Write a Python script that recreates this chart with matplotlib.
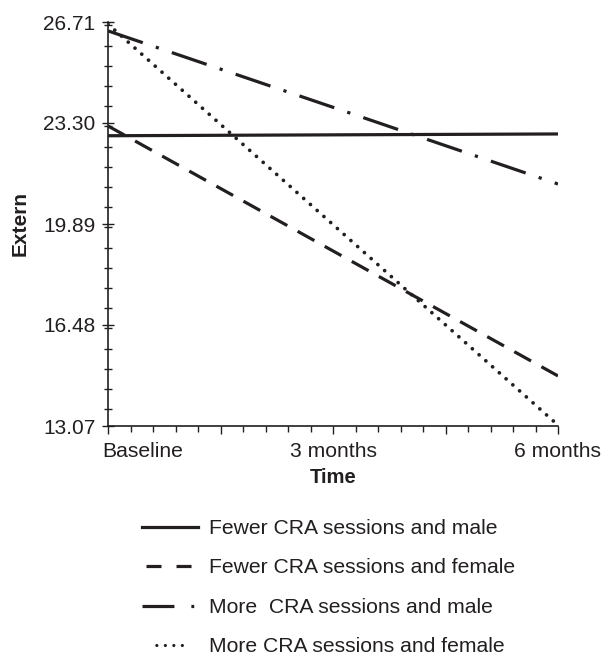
import matplotlib
matplotlib.use('Agg')
import matplotlib.pyplot as plt
from matplotlib.lines import Line2D
from matplotlib.ticker import MultipleLocator, FixedLocator
from matplotlib.transforms import ScaledTranslation

plt.rcParams['font.family'] = ['Liberation Sans', 'DejaVu Sans']

time_pos = [0, 1, 2]
time_labels = ['Baseline', '3 months', '6 months']
y_ticks = [13.07, 16.48, 19.89, 23.30, 26.71]

fewer_male = [22.87, 22.90, 22.93]
fewer_female = [23.20, 18.98, 14.76]
more_male = [26.41, 23.83, 21.24]
more_female = [26.64, 19.87, 13.10]

labels = ['Fewer CRA sessions and male',
          'Fewer CRA sessions and female',
          'More  CRA sessions and male',
          'More CRA sessions and female']

ink = '#231f20'
lw = 2.3

# line styles (dash lengths are in units of line width)
st_solid = '-'
st_dash = (0, (6, 3.7))
st_dashdot = (0, (11.5, 4.3, 1, 4.3))
st_dot = (0, (0.01, 2.4))

fig = plt.figure(figsize=(6.03, 6.58), dpi=100)
ax = fig.add_axes([108 / 603, 1 - 426 / 658, 450 / 603, 404 / 658])

ax.plot(time_pos, fewer_male, color=ink, lw=lw, linestyle=st_solid)
ax.plot(time_pos, fewer_female, color=ink, lw=lw, linestyle=st_dash)
ax.plot(time_pos, more_male, color=ink, lw=lw, linestyle=st_dashdot)
ax.plot(time_pos, more_female, color=ink, lw=2.7, linestyle=st_dot,
        dash_capstyle='round')

ax.set_xlim(0, 2)
ax.set_ylim(13.07, 26.71)
ax.spines['top'].set_visible(False)
ax.spines['right'].set_visible(False)
for s in ['left', 'bottom']:
    ax.spines[s].set_color(ink)
    ax.spines[s].set_linewidth(1.2)

ax.xaxis.set_minor_locator(MultipleLocator(0.1))
ax.set_xticks([0, 0.5, 1, 1.5, 2], [time_labels[0], '', time_labels[1], '', time_labels[2]])
ax.yaxis.set_major_locator(FixedLocator(y_ticks))
ax.yaxis.set_minor_locator(MultipleLocator(0.682))
ax.set_yticklabels(['%.2f' % v for v in y_ticks])

ax.tick_params(axis='x', which='major', direction='out', length=6, width=1,
               color=ink, labelsize=15.2, pad=5.5, labelcolor=ink)
ax.tick_params(axis='x', which='minor', direction='out', length=4, width=1,
               color=ink)
ax.tick_params(axis='y', which='major', direction='inout', length=8, width=1,
               color=ink, labelsize=15, pad=5, labelcolor=ink)
ax.tick_params(axis='y', which='minor', direction='inout', length=6, width=1,
               color=ink)

# "Baseline" starts at the axis instead of being centred on it
base_lab = ax.get_xticklabels()[0]
base_lab.set_ha('left')
base_lab.set_transform(base_lab.get_transform() +
                       ScaledTranslation(-6 / 100, 0, fig.dpi_scale_trans))

ax.set_xlabel('Time', fontsize=14.6, fontweight='bold', color=ink, labelpad=5)
ax.set_ylabel('Extern', fontsize=15, fontweight='bold', color=ink, labelpad=10)

# legend proxies, patterns phased like the original legend
h1 = Line2D([], [], color=ink, lw=lw, linestyle=st_solid)
h2 = Line2D([], [], color=ink, lw=lw, linestyle=(8.15, (4.7, 4.7)))
h3 = Line2D([], [], color=ink, lw=lw, linestyle=(0, (10, 5.3, 0.9, 10)))
h4 = Line2D([], [], color=ink, lw=lw, dash_capstyle='round',
            linestyle=(15.5, (0.01, 2.65, 0.01, 2.65, 0.01, 2.65, 0.01, 12)))

fig.legend([h1, h2, h3, h4], labels, loc='upper left',
           bbox_to_anchor=(142 / 603, 1 - 519 / 658), frameon=False,
           fontsize=15.2, handlelength=2.64, handletextpad=0.53,
           labelspacing=0.97, borderpad=0, borderaxespad=0, labelcolor=ink)

fig.savefig('out.png', dpi=100)
